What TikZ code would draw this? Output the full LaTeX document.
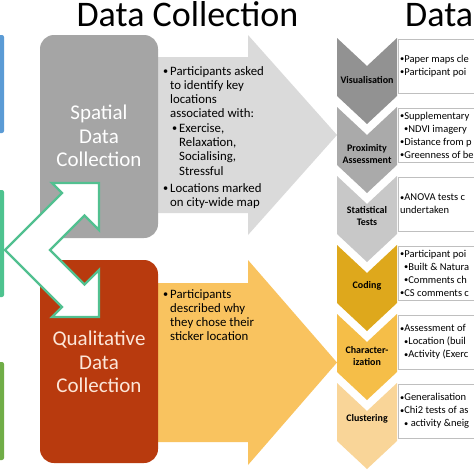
\documentclass[tikz,border=0pt]{standalone}
\usepackage{fontspec}
\usepackage{graphicx}
\setmainfont{Carlito}
\definecolor{leftblue}{RGB}{91,155,213}
\definecolor{leftteal}{RGB}{78,195,143}
\definecolor{leftgreen}{RGB}{112,173,71}
\definecolor{spgray}{RGB}{165,165,165}
\definecolor{qred}{RGB}{184,58,14}
\definecolor{qtext}{RGB}{252,230,216}
\definecolor{arrowgray}{RGB}{218,218,218}
\definecolor{arroworange}{RGB}{249,195,95}
\definecolor{arrowteal}{RGB}{82,192,144}
\definecolor{chevA}{RGB}{146,146,146}
\definecolor{chevB}{RGB}{170,170,170}
\definecolor{chevC}{RGB}{200,200,200}
\definecolor{chevD}{RGB}{222,168,28}
\definecolor{chevE}{RGB}{245,190,72}
\definecolor{chevF}{RGB}{249,213,152}
\definecolor{boxline}{RGB}{191,191,191}
\newcommand{\smb}{\raisebox{0.5pt}{\scalebox{0.8}{•}}}
\newcommand{\bul}{\makebox[7pt][l]{\smb}}
\newcommand{\ind}{\hspace*{7pt}}
\tikzset{
  titletext/.style={font=\fontsize{36}{40}\selectfont, inner sep=0pt},
  boxtitle/.style={font=\fontsize{21}{23.3}\selectfont, align=center, inner sep=0pt},
  arrowtext/.style={font=\fontsize{12.8}{14.3}\selectfont, align=left, inner sep=0pt, anchor=base west},
  chevlabel/.style={font=\bfseries\fontsize{10}{12}\selectfont, align=center, inner sep=0pt},
  boxtext/.style={font=\fontsize{10.5}{13}\selectfont, align=left, inner sep=0pt, anchor=west},
  infobox/.style={draw=boxline, line width=0.8pt, fill=white}
}
\newcommand{\chevron}[2]{%
  \fill[#1] (337,#2) -- (367,#2+28) -- (397,#2) -- (397,#2+58) -- (367,#2+86) -- (337,#2+58) -- cycle;
  \draw[infobox] (398,#2+1) rectangle (490,#2+55);
}
\begin{document}
\begin{tikzpicture}[x=1pt,y=-1pt]
\useasboundingbox (0,0) rectangle (474,474);
\clip (0,0) rectangle (474,474);
\fill[white] (0,0) rectangle (474,474);
% titles
\node[titletext, anchor=base] (t1) at (187.5,26.5) {Data Collection};
\node[titletext, anchor=base west] (t2) at (405,26.5) {Data};
% left bars
\fill[leftblue, rounded corners=2pt] (-6,35) rectangle (4,133);
\fill[leftteal, rounded corners=2pt] (-6,190) rectangle (4,297);
\fill[leftgreen, rounded corners=2pt] (-6,362) rectangle (4,460);
% big arrows
\fill[arrowgray] (150,57) -- (248,57) -- (248,35) -- (337,135) -- (248,235) -- (248,213) -- (150,213) -- cycle;
\fill[arroworange] (150,283) -- (248,283) -- (248,260) -- (337,362.5) -- (248,465) -- (248,442) -- (150,442) -- cycle;
% rounded boxes
\fill[spgray, rounded corners=14pt] (40,35) rectangle (158,238);
\fill[qred, rounded corners=14pt] (40,260) rectangle (158,463);
\node[boxtitle, text=white] (spatial) at (99,136) {Spatial\\Data\\Collection};
\node[boxtitle, text=qtext] (qual) at (99,362) {Qualitative\\Data\\Collection};
% arrow texts (base = last line's baseline)
\node[arrowtext] (sptext) at (163,206.3) {\bul Participants asked\\\ind to identify key\\\ind locations\\\ind associated with:\\\hspace*{9pt}\bul Exercise,\\\hspace*{16pt}Relaxation,\\\hspace*{16pt}Socialising,\\\hspace*{16pt}Stressful\\[2.6pt]\bul Locations marked\\\ind on city-wide map};
\node[arrowtext] (qtextnode) at (163,340.9) {\bul Participants\\\ind described why\\\ind they chose their\\\ind sticker location};
% teal double arrow
\draw[arrowteal, fill=white, line width=2.3pt, line join=miter]
  (5,250) -- (62,193) -- (52,183) -- (99,183) -- (99,230) -- (84.5,215.5) -- (50,250)
  -- (84.5,284.5) -- (99,270) -- (99,317) -- (52,317) -- (62,307) -- cycle;
% chevrons and boxes
\chevron{chevA}{38}
\chevron{chevB}{107}
\chevron{chevC}{176}
\chevron{chevD}{245}
\chevron{chevE}{314}
\chevron{chevF}{383}
\node[chevlabel] (l1) at (367,80) {Visualisation};
\node[chevlabel] (l2) at (367,154) {Proximity\\Assessment};
\node[chevlabel] (l3) at (367,216) {Statistical\\Tests};
\node[chevlabel] (l4) at (367,286) {Coding};
\node[chevlabel] (l5) at (367,356) {Character-\\ization};
\node[chevlabel] (l6) at (367,419) {Clustering};
\node[boxtext] (b1) at (400,66) {\smb Paper maps cle\\\smb Participant poi};
\node[boxtext] (b2) at (400,135) {\smb Supplementary\\\hspace*{4pt}\smb NDVI imagery\\\smb Distance from p\\\smb Greenness of be};
\node[boxtext] (b3) at (400,204) {\smb ANOVA tests c\\undertaken};
\node[boxtext] (b4) at (400,273) {\smb Participant poi\\\hspace*{4pt}\smb Built \& Natura\\\hspace*{4pt}\smb Comments ch\\\smb CS comments c};
\node[boxtext] (b5) at (400,342) {\smb Assessment of\\\hspace*{4pt}\smb Location (buil\\\hspace*{4pt}\smb Activity (Exerc};
\node[boxtext] (b6) at (400,411) {\smb Generalisation\\\smb Chi2 tests of as\\\hspace*{4pt}\smb{} activity \&neig};
\end{tikzpicture}
\end{document}
